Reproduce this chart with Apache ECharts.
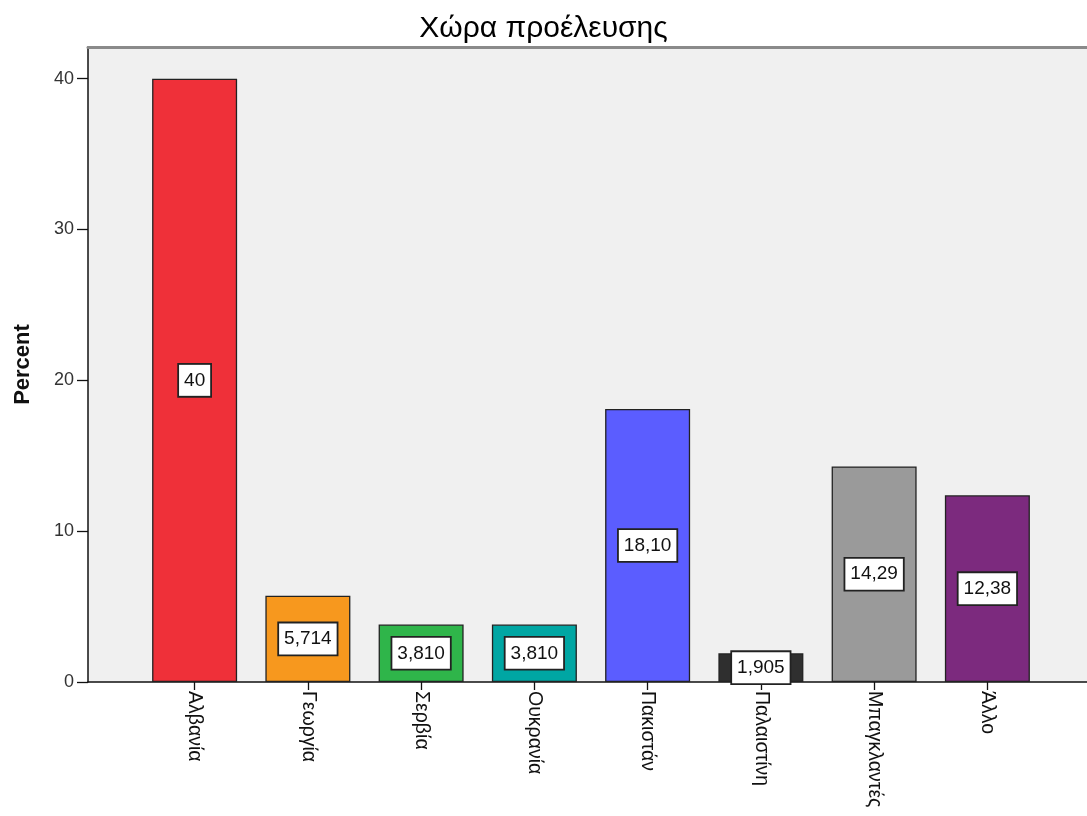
<!DOCTYPE html>
<html>
<head>
<meta charset="utf-8">
<script src="https://cdn.jsdelivr.net/npm/echarts@6/dist/echarts.min.js"></script>
<style>
html,body{margin:0;padding:0;background:#ffffff;}
#chart{width:1087px;height:816px;}
</style>
</head>
<body>
<div id="chart"></div>
<script>
var titleText = 'Χώρα προέλευσης';
var yAxisName = 'Percent';
var categories = ['Αλβανία', 'Γεωργία', 'Σερβία', 'Ουκρανία', 'Πακιστάν', 'Παλαιστίνη', 'Μπαγκλαντές', 'Άλλο'];
var percents = [40, 5.714, 3.810, 3.810, 18.10, 1.905, 14.29, 12.38];
var valueLabels = ['40', '5,714', '3,810', '3,810', '18,10', '1,905', '14,29', '12,38'];
var barColors = ['#ef3039', '#f7981e', '#2fb54a', '#00a6a3', '#5b5dff', '#2f2f2f', '#9a9a9a', '#7c2a7e'];
var yTicks = [0, 10, 20, 30, 40];
var yMax = 42.1;

var FONT = '"Liberation Sans", Arial, sans-serif';
var chart = echarts.init(document.getElementById('chart'), null, {renderer: 'canvas'});

var gridTop = 47, gridBottom = 134;

var option = {
  backgroundColor: '#ffffff',
  animation: false,
  title: {
    text: titleText,
    left: 'center',
    top: 9,
    textStyle: {fontFamily: FONT, fontSize: 30, fontWeight: 'normal', color: '#000'}
  },
  grid: [
    {left: 88, right: -20, top: gridTop, bottom: gridBottom, show: true, backgroundColor: '#f0f0f0', borderWidth: 0, containLabel: false},
    {left: 138, right: 43, top: gridTop, bottom: gridBottom, containLabel: false}
  ],
  xAxis: [
    {type: 'value', gridIndex: 0, min: 0, max: 1, position: 'bottom',
     axisLine: {show: true, onZero: false, lineStyle: {color: '#111', width: 1.5}},
     axisTick: {show: false}, axisLabel: {show: false}, splitLine: {show: false}},
    {type: 'value', gridIndex: 0, min: 0, max: 1, position: 'top',
     axisLine: {show: true, onZero: false, lineStyle: {color: '#8a8a8a', width: 3}},
     axisTick: {show: false}, axisLabel: {show: false}, splitLine: {show: false}},
    {type: 'category', gridIndex: 1, data: categories, position: 'bottom',
     axisLine: {show: false},
     axisTick: {show: true, alignWithLabel: true, length: 8, lineStyle: {color: '#111', width: 1.3}},
     axisLabel: {rotate: -90, margin: 9, fontFamily: FONT, fontSize: 19.5, color: '#111', interval: 0}}
  ],
  yAxis: [
    {type: 'value', gridIndex: 0, min: 0, max: yMax, interval: 10,
     name: yAxisName, nameLocation: 'middle', nameGap: 54,
     nameTextStyle: {fontFamily: FONT, fontSize: 22, fontWeight: 'bold', color: '#111'},
     axisLine: {show: true, onZero: false, lineStyle: {color: '#111', width: 1.5}},
     axisTick: {show: true, length: 11, customValues: yTicks, lineStyle: {color: '#111', width: 1.3}},
     axisLabel: {customValues: yTicks, margin: 14, fontFamily: FONT, fontSize: 18, color: '#333'},
     splitLine: {show: false}},
    {type: 'value', gridIndex: 1, min: 0, max: yMax, interval: 10, show: false}
  ],
  series: [{
    type: 'bar',
    xAxisIndex: 2,
    yAxisIndex: 1,
    data: percents.map(function (v, i) {
      return {value: v, itemStyle: {color: barColors[i]}};
    }),
    barWidth: 85,
    itemStyle: {borderColor: '#222', borderWidth: 1.3},
    label: {
      show: true,
      position: 'inside',
      formatter: function (p) { return valueLabels[p.dataIndex]; },
      fontFamily: FONT,
      fontSize: 19,
      color: '#111',
      backgroundColor: '#ffffff',
      borderColor: '#222',
      borderWidth: 1.8,
      padding: [5, 5, 5, 5],
      lineHeight: 21
    }
  }]
};
chart.setOption(option);
</script>
</body>
</html>
